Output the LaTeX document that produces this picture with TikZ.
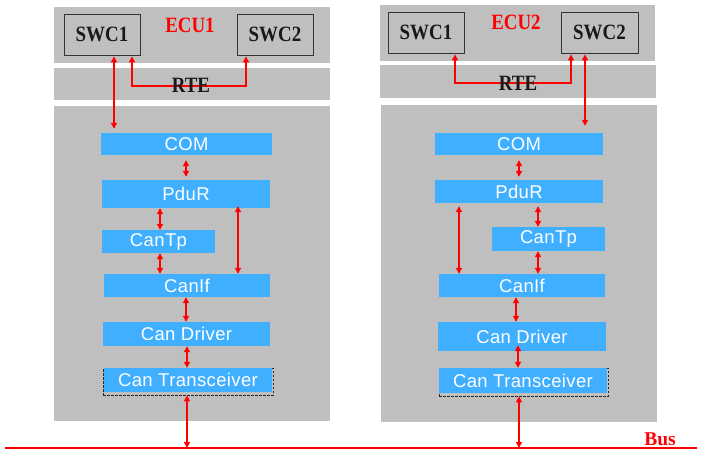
\documentclass[tikz,border=0pt]{standalone}
\usepackage{fontspec}
\usepackage{graphicx}
\usetikzlibrary{arrows.meta}
\newfontfamily\blkfont[LetterSpace=2]{Liberation Sans}
\newfontfamily\serfont{Liberation Serif}
\newcommand{\talltxt}[1]{\scalebox{0.97}[1.12]{#1}}
\definecolor{bggray}{RGB}{191,191,191}
\definecolor{blkblue}{RGB}{64,175,255}
\definecolor{arrred}{RGB}{255,0,0}
\definecolor{swcline}{RGB}{51,51,51}
\tikzset{
  panel/.style={fill=bggray, draw=none, inner sep=0pt},
  swcbox/.style={draw=swcline, line width=0.9pt, fill=bggray, inner sep=0pt,
    font=\serfont\bfseries\fontsize{19.5}{20}\selectfont, text=black!90},
  lbl/.style={inner sep=0pt, font=\serfont\bfseries\fontsize{19.5}{20}\selectfont},
  blk/.style={fill=blkblue, draw=none, inner sep=0pt, text=white,
    font=\blkfont\fontsize{18.5}{19}\selectfont},
  dashbox/.style={draw=black!85, dashed, dash pattern=on 2.5pt off 1.5pt, line width=0.7pt},
  arr/.style={draw=arrred, line width=1.3pt,
    {Triangle[length=6pt,width=6pt]}-{Triangle[length=6pt,width=6pt]}},
  busline/.style={draw=arrred, line width=1.1pt}
}
\begin{document}
\begin{tikzpicture}[x=1pt,y=-1pt]
\useasboundingbox (0,0) rectangle (702,449);
\fill[white] (0,0) rectangle (702,449);

% ---------- ECU1 ----------
\node[panel, minimum width=276pt, minimum height=56pt] (top1) at (192,35) {};
\node[panel, minimum width=276pt, minimum height=32pt] (rte1) at (192,84) {};
\node[panel, minimum width=276pt, minimum height=315pt] (low1) at (192,263.5) {};
\node[swcbox, minimum width=76pt, minimum height=41pt] (swc11) at (102,34.5) {\talltxt{SWC1}};
\node[swcbox, minimum width=76pt, minimum height=41pt] (swc12) at (275,34.5) {\talltxt{SWC2}};
\node[lbl, text=arrred] (ecu1) at (190,25) {\talltxt{ECU1}};

\node[blk, minimum width=171pt, minimum height=22pt] (com1) at (186.5,144) {COM};
\node[blk, minimum width=168pt, minimum height=28pt] (pdur1) at (186,194) {PduR};
\node[blk, minimum width=113pt, minimum height=23pt] (cantp1) at (158.5,241.5) {CanTp};
\node[blk, minimum width=166pt, minimum height=23pt] (canif1) at (187,285.5) {CanIf};
\node[blk, minimum width=167pt, minimum height=24pt] (drv1) at (186.5,334) {Can Driver};
\node[dashbox, minimum width=170pt, minimum height=27pt, inner sep=0pt] (trxd1) at (188,381.5) {};
\node[blk, minimum width=168pt, minimum height=24pt] (trx1) at (188,380) {Can Transceiver};

% ---------- ECU2 ----------
\node[panel, minimum width=275pt, minimum height=56pt] (top2) at (517.5,33) {};
\node[panel, minimum width=276pt, minimum height=33pt] (rte2) at (518,81.5) {};
\node[panel, minimum width=276pt, minimum height=317pt] (low2) at (519,263.5) {};
\node[swcbox, minimum width=76pt, minimum height=41pt] (swc21) at (426,32.5) {\talltxt{SWC1}};
\node[swcbox, minimum width=77pt, minimum height=41pt] (swc22) at (599.5,32.5) {\talltxt{SWC2}};
\node[lbl, text=arrred] (ecu2) at (516,22) {\talltxt{ECU2}};

\node[blk, minimum width=168pt, minimum height=22pt] (com2) at (519,144) {COM};
\node[blk, minimum width=168pt, minimum height=23pt] (pdur2) at (519,191.5) {PduR};
\node[blk, minimum width=113pt, minimum height=24pt] (cantp2) at (548.5,239) {CanTp};
\node[blk, minimum width=166pt, minimum height=23pt] (canif2) at (522,285.5) {CanIf};
\node[blk, minimum width=168pt, minimum height=29pt] (drv2) at (522,336.5) {Can Driver};
\node[dashbox, minimum width=169pt, minimum height=28pt, inner sep=0pt] (trxd2) at (523.5,382) {};
\node[blk, minimum width=168pt, minimum height=25pt] (trx2) at (523,380.5) {Can Transceiver};

% ---------- Bus ----------
\coordinate (busL) at (5,448);
\coordinate (busR) at (697,448);
\draw[busline] (busL) -- (busR);
\node[lbl, text=arrred] (bus) at (660,439.5) {Bus};

% ---------- Arrows ECU1 ----------
\draw[arr, shorten <=1pt, shorten >=4pt] (114,0 |- swc11.south) -- (114,0 |- com1.north);
\draw[arr, shorten <=1pt, shorten >=1pt] (132,0 |- swc11.south) -- (132,86) -- (246,86) -- (246,0 |- swc12.south);
\draw[arr, shorten <=5pt, shorten >=3pt] (186,0 |- com1.south) -- (186,0 |- pdur1.north);
\draw[arr] (160,0 |- pdur1.south) -- (160,0 |- cantp1.north);
\draw[arr] (160,0 |- cantp1.south) -- (160,0 |- canif1.north);
\draw[arr, shorten <=-2pt] (238,0 |- pdur1.south) -- (238,0 |- canif1.north);
\draw[arr] (186,0 |- canif1.south) -- (186,0 |- drv1.north);
\draw[arr] (187,0 |- drv1.south) -- (187,0 |- trx1.north);
\draw[arr] (187,0 |- trxd1.south) -- (187,0 |- busL);

% ---------- Arrows ECU2 ----------
\draw[arr, shorten <=1pt, shorten >=7pt] (585,0 |- swc22.south) -- (585,0 |- com2.north);
\draw[arr, shorten <=1pt, shorten >=1pt] (455,0 |- swc21.south) -- (455,83) -- (571,83) -- (571,0 |- swc22.south);
\draw[arr, shorten <=5pt, shorten >=3pt] (519,0 |- com2.south) -- (519,0 |- pdur2.north);
\draw[arr, shorten <=3pt] (459,0 |- pdur2.south) -- (459,0 |- canif2.north);
\draw[arr, shorten <=3pt] (538,0 |- pdur2.south) -- (538,0 |- cantp2.north);
\draw[arr] (538,0 |- cantp2.south) -- (538,0 |- canif2.north);
\draw[arr] (516,0 |- canif2.south) -- (516,0 |- drv2.north);
\draw[arr, shorten <=-6pt] (518,0 |- drv2.south) -- (518,0 |- trx2.north);
\draw[arr] (519,0 |- trxd2.south) -- (519,0 |- busL);

% RTE labels on top of connectors
\node[lbl, text=black!90] (rtel1) at (191,85.5) {\talltxt{RTE}};
\node[lbl, text=black!90] (rtel2) at (518,83) {\talltxt{RTE}};
\end{tikzpicture}
\end{document}
